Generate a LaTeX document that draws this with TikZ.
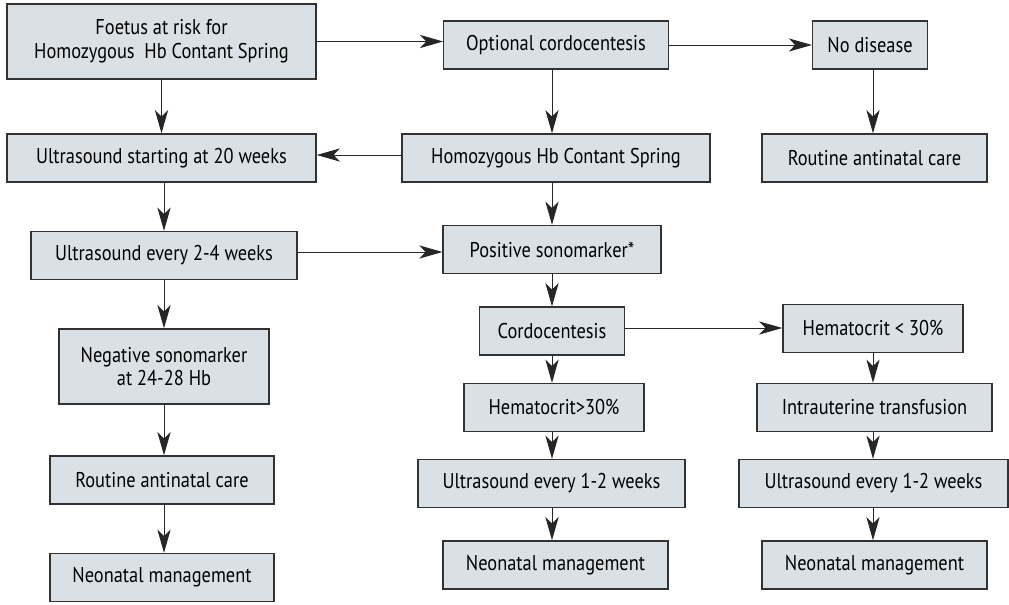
\documentclass[tikz,border=0pt]{standalone}
\usepackage{fontspec}
\setmainfont{PT Sans}[FakeStretch=0.86]
\usetikzlibrary{arrows.meta}
\definecolor{boxfill}{RGB}{217,225,231}
\definecolor{boxline}{RGB}{50,50,50}
\tikzset{
    box/.style={draw=boxline, line width=1pt, fill=boxfill, minimum height=1.2cm,
        inner sep=0pt, align=center, font=\fontsize{15.2}{17}\selectfont},
    tallbox/.style={box, minimum height=1.875cm},
    arr/.style={line width=0.7pt, draw=black!85,
        -{Stealth[length=0.58cm, width=0.33cm, inset=0.16cm]}}
}
\begin{document}
\begin{tikzpicture}[x=0.025cm, y=-0.025cm]
    \useasboundingbox (0,0) rectangle (1009,605);
    %% Left column
    \node[tallbox, minimum width=7.725cm] (foetus) at (161.5,41.5) {Foetus at risk for\\Homozygous~ Hb Contant Spring};
    \node[box, minimum width=7.725cm] (us20) at (161.5,158) {Ultrasound starting at 20 weeks};
    \node[box, minimum width=6.65cm] (us24) at (164,255.5) {Ultrasound every 2-4 weeks};
    \node[tallbox, minimum width=5.25cm] (neg) at (164,366.5) {Negative sonomarker\\at 24-28 Hb};
    \node[box, minimum width=5.6cm] (routineL) at (162,480) {Routine antinatal care};
    \node[box, minimum width=5.6cm] (neoL) at (162,577.5) {Neonatal management};
    %% Middle column
    \node[box, minimum width=5.61cm] (optional) at (556,45) {Optional cordocentesis};
    \node[box, minimum width=7.69cm] (homo) at (556,158) {Homozygous Hb Contant Spring};
    \node[box, minimum width=5.44cm] (pos) at (552,249.5) {Positive sonomarker*};
    \node[box, minimum width=3.625cm] (cordo) at (552,331) {Cordocentesis};
    \node[box, minimum width=4.5cm] (hhigh) at (554,407.5) {Hematocrit>30\%};
    \node[box, minimum width=6.675cm] (usMid) at (551.5,483.5) {Ultrasound every 1-2 weeks};
    \node[box, minimum width=5.625cm] (neoM) at (555.5,565) {Neonatal management};
    %% Right column
    \node[box, minimum width=2.865cm] (nodis) at (870,45) {No disease};
    \node[box, minimum width=5.625cm] (routineR) at (874.5,158) {Routine antinatal care};
    \node[box, minimum width=4.5cm] (hlow) at (873,328.5) {Hematocrit < 30\%};
    \node[box, minimum width=5.875cm] (intra) at (874.5,407.5) {Intrauterine transfusion};
    \node[box, minimum width=6.725cm] (usR) at (873.5,483.5) {Ultrasound every 1-2 weeks};
    \node[box, minimum width=5.625cm] (neoR) at (874.5,565) {Neonatal management};
    %% Horizontal arrows
    \draw[arr] (foetus.east) -- (foetus.east -| optional.west);
    \draw[arr] (optional.east) -- (nodis.west);
    \draw[arr] (homo.west |- 0,155) -- (us20.east |- 0,155);
    \draw[arr] (us24.east |- 0,252) -- (pos.west |- 0,252);
    \draw[arr] (cordo.east |- 0,328) -- (hlow.west |- 0,328);
    %% Vertical arrows
    \draw[arr] (foetus.south) -- (foetus.south |- us20.north);
    \draw[arr] (us24.north |- us20.south) -- (us24.north);
    \draw[arr] (us24.south) -- (us24.south |- neg.north);
    \draw[arr] (neg.south) -- (neg.south |- routineL.north);
    \draw[arr] (neg.south |- routineL.south) -- (neg.south |- neoL.north);
    \draw[arr] (pos.north |- optional.south) -- (pos.north |- homo.north);
    \draw[arr] (pos.north |- homo.south) -- (pos.north);
    \draw[arr] (pos.south) -- (cordo.north);
    \draw[arr] (cordo.south) -- (cordo.south |- hhigh.north);
    \draw[arr] (cordo.south |- hhigh.south) -- (cordo.south |- usMid.north);
    \draw[arr] (cordo.south |- usMid.south) -- (cordo.south |- neoM.north);
    \draw[arr] (hlow.south |- nodis.south) -- (hlow.south |- routineR.north);
    \draw[arr] (hlow.south) -- (hlow.south |- intra.north);
    \draw[arr] (hlow.south |- intra.south) -- (hlow.south |- usR.north);
    \draw[arr] (hlow.south |- usR.south) -- (hlow.south |- neoR.north);
\end{tikzpicture}
\end{document}
